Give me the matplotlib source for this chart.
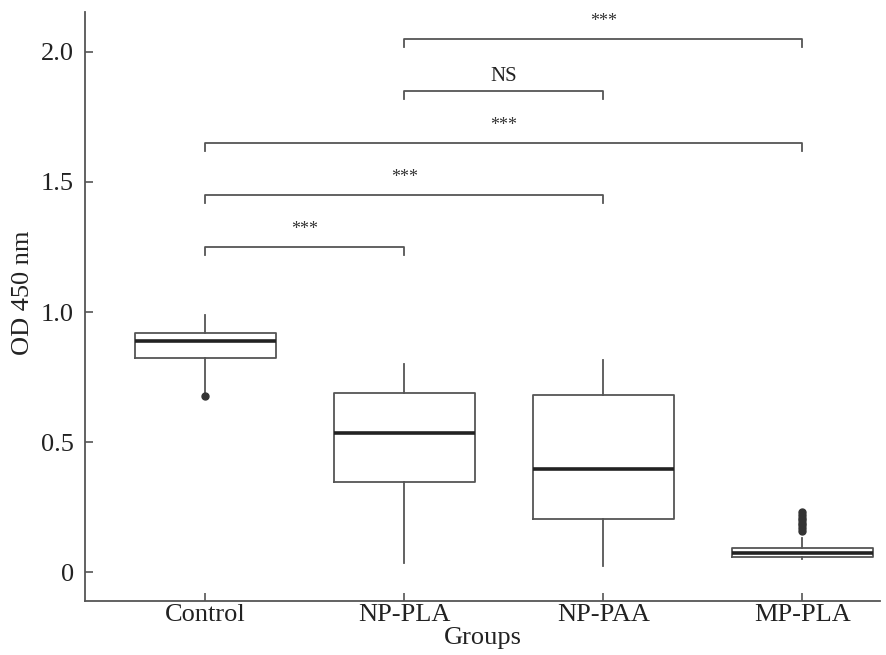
import matplotlib
matplotlib.use("Agg")
import matplotlib.pyplot as plt

groups = ["Control", "NP-PLA", "NP-PAA", "MP-PLA"]
whisker_low = [0.685, 0.035, 0.025, 0.050]
q1 = [0.823, 0.346, 0.204, 0.057]
median = [0.888, 0.535, 0.398, 0.075]
q3 = [0.919, 0.688, 0.680, 0.093]
whisker_high = [0.988, 0.800, 0.815, 0.130]
fliers = [[0.677], [], [], [0.16, 0.17, 0.18, 0.19, 0.20, 0.21, 0.22, 0.23]]

comparisons = [(0, 1, 1.25, "***"), (0, 2, 1.45, "***"), (0, 3, 1.65, "***"),
               (1, 2, 1.85, "NS"), (1, 3, 2.05, "***")]

plt.rcParams['font.family'] = ['Liberation Serif', 'DejaVu Serif']

fig = plt.figure(figsize=(8.87, 6.55), dpi=100)
ax = fig.add_axes([0.096, 0.082, 0.896, 0.9])

stats = []
for i, g in enumerate(groups):
    stats.append(dict(label=g, whislo=whisker_low[i], q1=q1[i], med=median[i],
                      q3=q3[i], whishi=whisker_high[i], fliers=fliers[i]))

gray = "#555555"
ax.bxp(stats, positions=range(len(groups)), widths=0.71, showcaps=False,
       boxprops=dict(color=gray, linewidth=1.3),
       whiskerprops=dict(color=gray, linewidth=1.3),
       medianprops=dict(color="#222222", linewidth=2.6),
       flierprops=dict(marker='o', markersize=5, markerfacecolor="#333333",
                       markeredgecolor="#333333"))

for a, b, y, txt in comparisons:
    ax.plot([a, a, b, b], [y - 0.03, y, y, y - 0.03], color=gray, linewidth=1.3)
    if txt == "NS":
        ax.text((a + b) / 2, y + 0.02, txt, ha='center', va='bottom', fontsize=15,
                color="#222222")
    else:
        ax.text((a + b) / 2, y + 0.035, txt, ha='center', va='bottom', fontsize=13,
                color="#333333")

ax.set_xlim(-0.603, 3.39)
ax.set_ylim(-0.1115, 2.154)
ax.set_yticks([0, 0.5, 1.0, 1.5, 2.0])
ax.set_yticklabels(["0", "0.5", "1.0", "1.5", "2.0"])
ax.set_xticks(range(len(groups)))
ax.set_xticklabels(groups)
ax.tick_params(direction='in', length=6, width=1.2, color=gray, labelsize=19,
               labelcolor="#222222")
ax.tick_params(axis='y', pad=8)
ax.tick_params(axis='x', pad=2)
for s in ['top', 'right']:
    ax.spines[s].set_visible(False)
for s in ['left', 'bottom']:
    ax.spines[s].set_color(gray)
    ax.spines[s].set_linewidth(1.3)

ax.set_ylabel("OD 450 nm", fontsize=19, color="#222222")
ax.yaxis.set_label_coords(-0.064, 0.523)
ax.set_xlabel("Groups", fontsize=19, color="#222222")
ax.xaxis.set_label_coords(0.5, -0.043)

fig.savefig("out.png", dpi=100)
